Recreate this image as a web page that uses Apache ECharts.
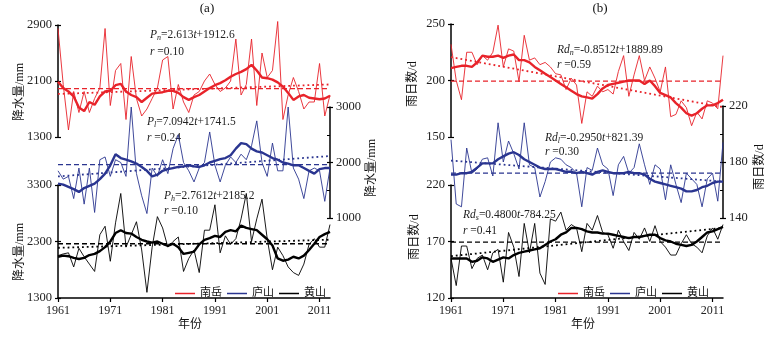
<!DOCTYPE html>
<html>
<head>
<meta charset="utf-8">
<script src="https://cdn.jsdelivr.net/npm/echarts@6/dist/echarts.min.js"></script>
<style>
  html, body { margin: 0; padding: 0; background: #fff; }
  #chart { width: 777px; height: 341px; }
</style>
</head>
<body>
<div id="chart"></div>
<script>
// ---- data -------------------------------------------------------------
const years = Array.from({ length: 53 }, (_, k) => String(1961 + k));
const stations = ['南岳', '庐山', '黄山'];

// annual precipitation (mm)
const rainNanyue = [2850,2050,1400,1950,1650,1950,1650,1850,2000,2850, 1750,2250,2350,1550,2450,1850,1600,1700,1850,2000,
  2400,2450,1700,2050,1800,1650,1900,1950,2100,2200, 2050,1950,2000,2100,2700,1900,2050,2700,1750,2500,
  2150,2250,2950,1550,1900,2150,1950,1700,1800,1800, 2350,1600,1900];
const rainNanyueSmooth = [2090,2000,1950,1880,1720,1670,1800,1760,1880,1950, 1960,2040,2060,1950,1900,1870,1800,1860,1920,1930,
  1940,1960,1960,1930,1870,1830,1870,1900,1950,2000, 2040,2070,2110,2160,2200,2230,2270,2330,2250,2150,
  2140,2120,2080,2020,1930,1830,1880,1900,1860,1850, 1840,1850,1890];
const rainLushan = [1850,1700,1750,1350,1900,1250,1900,1100,2050,2100, 1750,2050,2000,1750,3000,1800,1400,1080,1900,1750,
  2050,1800,2250,2500,2000,1850,1650,1900,2000,2550, 1950,1650,1950,2100,2000,2150,2050,2300,2750,2000,
  1750,2350,1850,1850,3000,1900,1700,1350,1850,1900, 1850,1300,1900];
const rainLushanSmooth = [1620,1600,1560,1520,1470,1540,1580,1620,1700,1800, 1950,2150,2080,2050,2020,1980,1920,1850,1750,1780,
  1850,1880,1900,1920,1930,1950,1930,1920,1950,2000, 2030,2060,2080,2130,2250,2350,2330,2250,2200,2180,
  2130,2080,2050,2000,1980,1950,1950,1900,1850,1800, 1880,1900,1900];
const rainHuangshan = [2050,2080,2100,1850,2180,2030,1900,1770,2420,2570, 1950,2630,3150,2200,2420,2650,2150,1400,2200,2740,
  2540,2200,2300,2380,1770, 2000,2150,1750,2500,2500,2950,2100,2400,2250,2350,
  2700,3150,2300,2700,3050,2350,1800,2200,2050,1850, 1750,1700,1900,2250,2350,2200,2200,2600];
const rainHuangshanSmooth = [2030,2050,2040,2010,1990,2010,2060,2080,2130,2200, 2300,2450,2500,2450,2440,2380,2330,2300,2280,2300,
  2260,2220,2260,2200,2080,2100,2120,2250,2330,2360, 2400,2380,2470,2500,2480,2580,2540,2520,2500,2420,
  2340,2230,2000,1960,1980,2030,2000,2050,2150,2260, 2380,2430,2470];

// annual rain days (d)
const daysNanyue = [232,200,183,225,225,214,222,218,225,249, 212,228,226,199,240,218,220,214,216,212,
  206,205,192,202,196,162,190,186,195,190, 192,188,208,222,186,205,222,200,212,202,
  190,212,168,170,182,176,160,172,166,182, 180,175,222];
const daysNanyueSmooth = [211,212,213,213,212,216,222,221,221,222, 220,222,223,218,218,216,212,209,206,203,
  200,197,194,191,188,186,185,184,188,193, 196,197,198,199,200,200,200,197,200,195,
  189,187,185,180,176,171,169,171,175,178, 178,180,183];
const daysLushan = [196,150,148,190,172,175,182,183,170,208, 180,195,186,175,208,178,176,155,166,180,
  183,182,178,176,172,148,176,174,190,178, 175,156,178,184,172,176,193,178,164,178,
  175,153,178,164,151,172,168,164,148,168, 172,152,194];
const daysLushanSmooth = [171,171,172,172,173,176,179,179,179,182, 184,186,187,185,182,180,178,176,175,175,
  175,174,173,173,172,173,172,171,173,174, 173,172,172,172,173,172,172,171,168,166,
  165,164,163,162,161,159,159,160,162,163, 165,166,166];
const daysHuangshan = [155,131,166,166,146,155,158,145,160,163, 134,178,165,139,186,160,186,142,132,190,
  188,196,180,185,182,161,186,180,193,178, 176,164,180,170,162,178,172,182,170,184,
  170,165,158,158,168,176,168,165,160,175, 182,172,185];
const daysHuangshanSmooth = [155,155,155,155,152,153,156,155,152,154, 156,155,158,160,161,162,163,164,167,170,
  172,176,178,182,182,181,179,178,178,177, 177,176,175,174,173,174,174,175,176,176,
  173,171,170,168,167,166,167,170,174,178, 179,181,183];

// long-term means and linear trends (value at 1961, value at 2013)
const rainMeans = [1990, 1960, 2260];
const daysMeans = [199.5, 172, 169.5];
const rainTrends = [[1915, 2051], [1749, 2117], [2188, 2332]];
const daysTrends = [[220.7, 176.4], [181, 166], [157.0, 182.0]];

// axis scales: [min, max, interval]
const rainScales = [[1300, 2900, 800], [1000, 3000, 1000], [1300, 3300, 1000]];
const daysScales = [[150, 250, 50], [140, 220, 40], [120, 220, 50]];

// ---- styling ----------------------------------------------------------
const SERIF = '"Liberation Serif", "Times New Roman", serif';
const MIXED = '"Liberation Serif", "Noto Sans CJK SC", sans-serif';
const colors = ['#e8232a', '#2a3590', '#000000'];

const grids = [], xAxes = [], yAxes = [], series = [];

function addStack(k, box, scale, side, isBottom, minor, raw, smooth, mean, trend, stationIdx) {
  grids.push({ left: box.left, top: box.top, width: box.width, height: box.height });
  xAxes.push({
    type: 'category', gridIndex: k, data: years, boundaryGap: false, show: isBottom,
    axisLine: { onZero: false, lineStyle: { color: '#000', width: 1.5 } },
    axisTick: { interval: 9, length: 4, lineStyle: { color: '#000', width: 1.2 } },
    axisLabel: { interval: 9, fontFamily: SERIF, fontSize: 12, color: '#222', margin: 7 },
    splitLine: { show: false }
  });
  const base = { type: 'value', gridIndex: k, position: side, min: scale[0], max: scale[1], interval: scale[2],
    splitLine: { show: false } };
  yAxes.push(Object.assign({}, base, {
    axisLine: { show: true, onZero: false, lineStyle: { color: '#000', width: 1.5 } },
    axisTick: { show: true, inside: false, length: 3, lineStyle: { color: '#000', width: 1.2 } },
    axisLabel: { fontFamily: SERIF, fontSize: 12.5, color: '#222', margin: 6, formatter: (v) => String(v) }
  }));
  yAxes.push(Object.assign({}, base, {
    axisLine: { show: false },
    axisTick: { show: true, inside: true, length: 3, lineStyle: { color: '#000', width: 1.2 } },
    axisLabel: { show: false },
    minorTick: { show: minor, splitNumber: 2, length: 3, lineStyle: { color: '#000', width: 1 } }
  }));
  const c = colors[stationIdx];
  const common = { type: 'line', xAxisIndex: k, yAxisIndex: 2 * k, symbol: 'none', clip: false, silent: true,
    itemStyle: { color: c } };
  series.push(Object.assign({}, common, { name: stations[stationIdx], data: raw, z: 2,
    lineStyle: { color: c, width: 0.9 } }));
  series.push(Object.assign({}, common, { data: smooth, z: 3, lineStyle: { color: c, width: 2.4 } }));
  series.push(Object.assign({}, common, { data: [[years[0], mean], [years[52], mean]], z: 1,
    lineStyle: { color: c, width: 1.3, type: [5, 3] } }));
  series.push(Object.assign({}, common, { data: [[years[0], trend[0]], [years[52], trend[1]]], z: 1,
    lineStyle: { color: c, width: 1.8, type: [1.8, 3] } }));
}

// panel (a): precipitation
const aX = { left: 58, width: 272 };
addStack(0, Object.assign({ top: 25, height: 112 }, aX), rainScales[0], 'left', false, false,
  rainNanyue, rainNanyueSmooth, rainMeans[0], rainTrends[0], 0);
addStack(1, Object.assign({ top: 107, height: 111 }, aX), rainScales[1], 'right', false, true,
  rainLushan, rainLushanSmooth, rainMeans[1], rainTrends[1], 1);
addStack(2, Object.assign({ top: 185, height: 113 }, aX), rainScales[2], 'left', true, false,
  rainHuangshan, rainHuangshanSmooth, rainMeans[2], rainTrends[2], 2);

// panel (b): rain days
const bX = { left: 451, width: 272 };
addStack(3, Object.assign({ top: 24, height: 113 }, bX), daysScales[0], 'left', false, false,
  daysNanyue, daysNanyueSmooth, daysMeans[0], daysTrends[0], 0);
addStack(4, Object.assign({ top: 106, height: 112 }, bX), daysScales[1], 'right', false, true,
  daysLushan, daysLushanSmooth, daysMeans[1], daysTrends[1], 1);
addStack(5, Object.assign({ top: 185, height: 113 }, bX), daysScales[2], 'left', true, false,
  daysHuangshan, daysHuangshanSmooth, daysMeans[2], daysTrends[2], 2);

// ---- annotations ------------------------------------------------------
const eqRich = {
  i: { fontFamily: SERIF, fontStyle: 'italic', fontSize: 11.5, lineHeight: 13, fill: '#222' },
  s: { fontFamily: SERIF, fontStyle: 'italic', fontSize: 8, lineHeight: 13, verticalAlign: 'bottom', fill: '#222' },
  n: { fontFamily: SERIF, fontSize: 11.5, lineHeight: 13, fill: '#222' }
};
function eqText(x, y, text) {
  return { type: 'text', x: x, y: y, silent: true,
    style: { text: text, rich: eqRich, align: 'left', verticalAlign: 'middle' } };
}
function vName(x, y, text) {
  return { type: 'text', x: x, y: y, rotation: Math.PI / 2, silent: true,
    style: { text: text, font: '12px ' + MIXED, fill: '#111', align: 'center', verticalAlign: 'middle' } };
}
function plainText(x, y, text, font) {
  return { type: 'text', x: x, y: y, silent: true,
    style: { text: text, font: font, fill: '#111', align: 'center', verticalAlign: 'middle' } };
}

const graphics = [
  plainText(207, 9, '(a)', '13px ' + SERIF),
  plainText(600, 9, '(b)', '13px ' + SERIF),
  plainText(190, 325, '年份', '12px ' + MIXED),
  plainText(583, 325, '年份', '12px ' + MIXED),
  vName(20, 92, '降水量/mm'),
  vName(20, 252, '降水量/mm'),
  vName(372, 168, '降水量/mm'),
  vName(413, 84, '雨日数/d'),
  vName(415, 237, '雨日数/d'),
  vName(760, 167, '雨日数/d'),
  eqText(150, 35, '{i|P}{s|n}{n|=2.613}{i|t}{n|+1912.6}'),
  eqText(150, 52, '{i|r}{n| =0.10}'),
  eqText(147, 122, '{i|P}{s|l}{n|=7.0942}{i|t}{n|+1741.5}'),
  eqText(147, 138, '{i|r}{n| =0.24}'),
  eqText(164, 196, '{i|P}{s|h}{n|=2.7612}{i|t}{n|+2185.2}'),
  eqText(164, 211, '{i|r}{n| =0.10}'),
  eqText(557, 50, '{i|Rd}{s|n}{n|=-0.8512}{i|t}{n|+1889.89}'),
  eqText(557, 65, '{i|r}{n| =0.59}'),
  eqText(545, 138, '{i|Rd}{s|l}{n|=-0.2950}{i|t}{n|+821.39}'),
  eqText(545, 152, '{i|r}{n| =0.30}'),
  eqText(463, 215, '{i|Rd}{s|s}{n|=0.4800}{i|t}{n|-784.25}'),
  eqText(463, 231, '{i|r}{n| =0.41}')
];

const legendBase = {
  top: 283, itemWidth: 20, itemHeight: 1.5, itemGap: 5, icon: 'rect', selectedMode: false,
  data: stations, textStyle: { fontFamily: MIXED, fontSize: 11, color: '#111', padding: [0, 0, 0, 0] }
};

const chart = echarts.init(document.getElementById('chart'), null, { renderer: 'canvas' });
chart.setOption({
  backgroundColor: '#fff',
  animation: false,
  grid: grids,
  xAxis: xAxes,
  yAxis: yAxes,
  legend: [Object.assign({ left: 170 }, legendBase), Object.assign({ left: 553 }, legendBase)],
  graphic: graphics,
  series: series
});
</script>
</body>
</html>
